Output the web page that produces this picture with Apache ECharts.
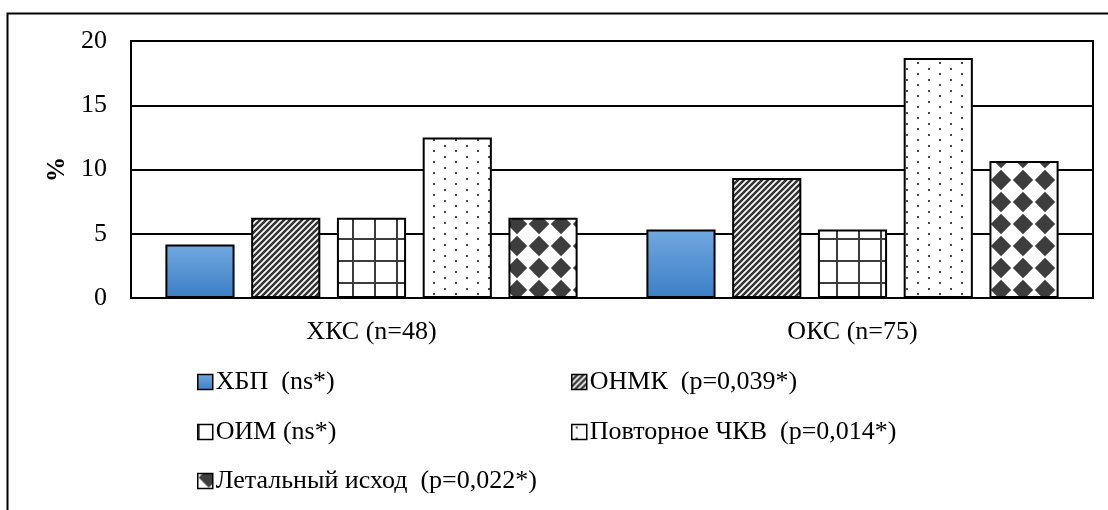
<!DOCTYPE html>
<html>
<head>
<meta charset="utf-8">
<script src="https://cdn.jsdelivr.net/npm/echarts@6/dist/echarts.min.js"></script>
<style>
  html, body { margin: 0; padding: 0; background: #fff; }
  #chart { width: 1108px; height: 510px; }
</style>
</head>
<body>
<div id="chart"></div>
<script>
// Patient groups along the x axis
const categories = ['ХКС (n=48)', 'ОКС (n=75)'];

// Outcome names (with significance notes) used for series and legend
const outcomeNames = [
  'ХБП  (ns*)',
  'ОНМК  (p=0,039*)',
  'ОИМ (ns*)',
  'Повторное ЧКВ  (p=0,014*)',
  'Летальный исход  (p=0,022*)'
];

// Frequency of each outcome, % of the group
const ckdValues       = [4.17, 5.33];
const strokeValues    = [6.25, 9.33];
const miValues        = [6.25, 5.33];
const repeatPciValues = [12.5, 18.67];
const deathValues     = [6.25, 10.67];

// Value axis ticks
const yMin = 0;
const yMax = 20;
const yStep = 5;

const FONT = "'Liberation Serif', 'Times New Roman', serif";
const INK = '#3d3d3d';

// Builds a repeating monochrome fill tile
function tile(w, h, draw) {
  const c = document.createElement('canvas');
  c.width = w; c.height = h;
  const g = c.getContext('2d');
  g.fillStyle = '#fff';
  g.fillRect(0, 0, w, h);
  g.fillStyle = INK;
  g.strokeStyle = INK;
  draw(g);
  return { image: c, repeat: 'repeat' };
}

const fillStripes = tile(6, 6, g => {
  g.strokeStyle = '#333';
  g.lineWidth = 2.5;
  g.beginPath();
  g.moveTo(-1, 7); g.lineTo(7, -1);
  g.moveTo(-1, 1); g.lineTo(1, -1);
  g.moveTo(5, 7); g.lineTo(7, 5);
  g.stroke();
});

const fillGrid = tile(22, 22, g => {
  g.fillRect(0, 18, 22, 2);
  g.fillRect(0, 0, 2, 22);
});

const fillDots = tile(22, 11, g => {
  g.fillStyle = '#4a4a4a';
  g.fillRect(4, 2, 2, 2);
  g.fillRect(15, 7, 2, 2);
});

const fillDiamonds = tile(22, 22, g => {
  [-18, 4, 26].forEach(cy => {
    g.beginPath();
    g.moveTo(11, cy - 10.2); g.lineTo(21.2, cy); g.lineTo(11, cy + 10.2); g.lineTo(0.8, cy);
    g.closePath();
    g.fill();
  });
});

const fillBlue = new echarts.graphic.LinearGradient(0, 0, 0, 1, [
  { offset: 0, color: '#72a8e0' },
  { offset: 1, color: '#3b7fc6' }
]);

const seriesData = [ckdValues, strokeValues, miValues, repeatPciValues, deathValues];
const seriesFills = [fillBlue, fillStripes, fillGrid, fillDots, fillDiamonds];

const series = outcomeNames.map((name, i) => ({
  name,
  type: 'bar',
  data: seriesData[i],
  barGap: '24%',
  barCategoryGap: '14.3%',
  itemStyle: {
    color: seriesFills[i],
    borderColor: '#000',
    borderWidth: 2
  },
  emphasis: { disabled: true }
}));

// Legend laid out in two columns, one block per entry
const legendSlots = [
  { left: 197, top: 369 },
  { left: 571, top: 369 },
  { left: 197, top: 419 },
  { left: 571, top: 419 },
  { left: 197, top: 468 }
];

const legends = outcomeNames.map((name, i) => ({
  data: [name],
  left: legendSlots[i].left,
  top: legendSlots[i].top,
  padding: 0,
  icon: 'rect',
  itemWidth: 15,
  itemHeight: 15,
  selectedMode: false,
  itemStyle: { borderColor: '#000', borderWidth: 1.5 },
  textStyle: { fontFamily: FONT, fontSize: 26, color: '#000', padding: [0, 0, 0, -2] }
}));

const chart = echarts.init(document.getElementById('chart'), null, { renderer: 'canvas' });

chart.setOption({
  animation: false,
  backgroundColor: '#fff',
  textStyle: { fontFamily: FONT },
  graphic: [{
    type: 'rect',
    z: -10,
    shape: { x: 7.5, y: 13.5, width: 1120, height: 520 },
    style: { fill: 'none', stroke: '#000', lineWidth: 2 }
  }],
  legend: legends,
  grid: {
    left: 131, right: 15, top: 41, bottom: 212,
    show: true,
    borderColor: '#000',
    borderWidth: 2,
    backgroundColor: 'transparent'
  },
  xAxis: {
    type: 'category',
    data: categories,
    axisTick: { show: false },
    axisLine: { lineStyle: { color: '#000', width: 2 } },
    axisLabel: { color: '#000', fontFamily: FONT, fontSize: 26, margin: 21 }
  },
  yAxis: {
    type: 'value',
    min: yMin, max: yMax, interval: yStep,
    name: '%',
    nameLocation: 'middle',
    nameRotate: 90,
    nameGap: 61,
    nameTextStyle: { color: '#000', fontFamily: FONT, fontSize: 25, fontWeight: 'bold' },
    axisLine: { show: true, lineStyle: { color: '#000', width: 2 } },
    axisTick: { show: false },
    splitLine: { lineStyle: { color: '#000', width: 2 } },
    axisLabel: { color: '#000', fontFamily: FONT, fontSize: 26, margin: 24 }
  },
  series
});
</script>
</body>
</html>
